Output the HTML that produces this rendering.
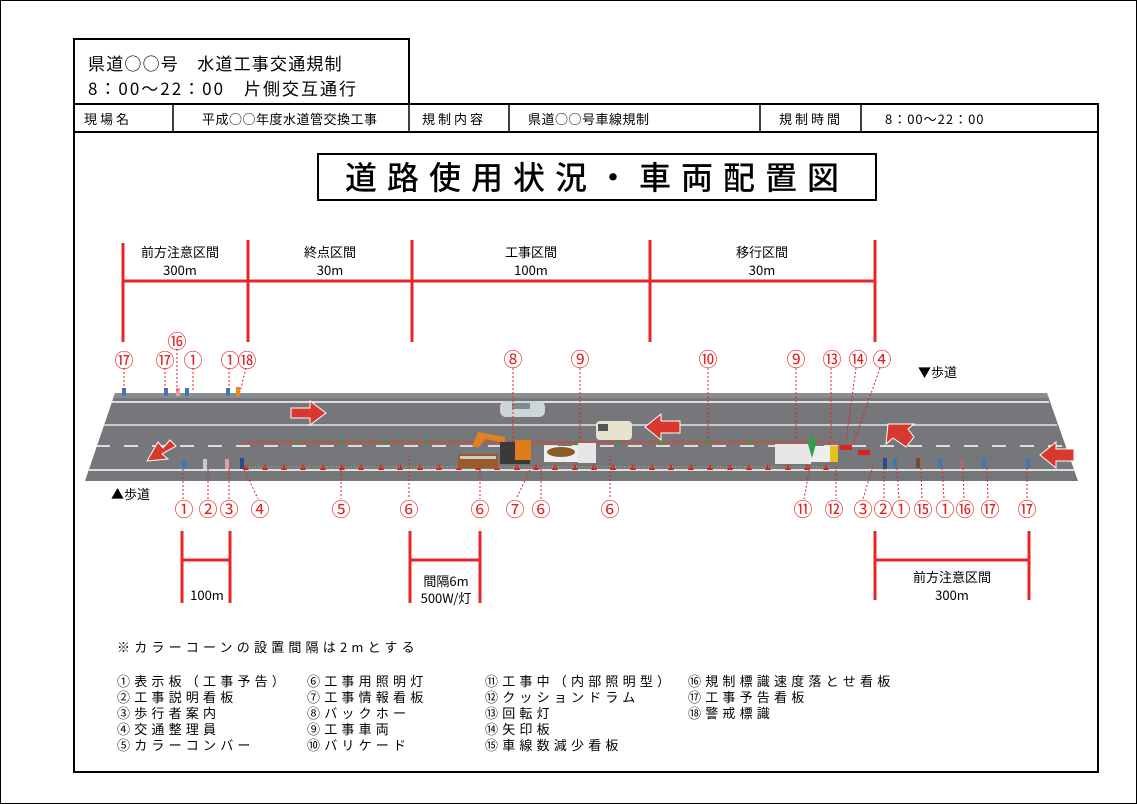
<!DOCTYPE html>
<html><head><meta charset="utf-8">
<style>
html,body{margin:0;padding:0;background:#fff;}
svg{display:block;font-family:"Liberation Sans","Noto Sans CJK JP",sans-serif;}
.t{font-family:"Noto Sans CJK JP","IPAGothic",sans-serif;}
.r{fill:#e02020;font-size:19px;text-anchor:middle;font-family:"Noto Sans CJK JP",sans-serif;}
.ld{stroke:#e02020;stroke-width:1;stroke-dasharray:2 2;}
.sec{stroke:#e8262a;stroke-width:3;}
</style></head><body>
<svg width="1137" height="804" viewBox="0 0 1137 804" xmlns="http://www.w3.org/2000/svg">
<rect x="0.5" y="0.5" width="1136" height="803" fill="#fff" stroke="#000" stroke-width="1"/>
<rect x="74" y="39" width="335" height="65" fill="#fff" stroke="#000" stroke-width="2"/>
<text x="88" y="70" font-size="17" class="t" letter-spacing="1.2">県道○○号　水道工事交通規制</text>
<text x="88" y="95" font-size="17" class="t" letter-spacing="2">8：00～22：00　片側交互通行</text>
<rect x="74" y="104" width="1024" height="668" fill="none" stroke="#000" stroke-width="2"/>
<line x1="74" y1="132" x2="1098" y2="132" stroke="#000" stroke-width="2"/>
<g stroke="#000" stroke-width="1.5">
<line x1="173" y1="104" x2="173" y2="132"/><line x1="409" y1="104" x2="409" y2="132"/>
<line x1="509" y1="104" x2="509" y2="132"/><line x1="760" y1="104" x2="760" y2="132"/>
<line x1="861" y1="104" x2="861" y2="132"/></g>
<g font-size="13" class="t">
<text x="84" y="124" letter-spacing="3">現場名</text>
<text x="202" y="124" letter-spacing="0.5">平成○○年度水道管交換工事</text>
<text x="422" y="124" letter-spacing="3">規制内容</text>
<text x="528" y="124" letter-spacing="0.5">県道○○号車線規制</text>
<text x="779" y="124" letter-spacing="3">規制時間</text>
<text x="885" y="124" letter-spacing="1">8：00～22：00</text>
</g>
<rect x="318" y="154" width="558" height="46" fill="#fff" stroke="#000" stroke-width="2"/>
<text x="597" y="189" font-size="32" text-anchor="middle" font-weight="500" class="t" letter-spacing="10">道路使用状況・車両配置図</text>
<g class="sec">
<line x1="123" y1="243" x2="123" y2="342"/><line x1="248" y1="240" x2="248" y2="342"/>
<line x1="412" y1="240" x2="412" y2="342"/><line x1="650" y1="240" x2="650" y2="342"/>
<line x1="875" y1="240" x2="875" y2="342"/><line x1="123" y1="281" x2="875" y2="281"/>
</g>
<g font-size="13" text-anchor="middle" class="t">
<text x="180" y="257">前方注意区間</text><text x="180" y="275">300m</text>
<text x="330" y="257">終点区間</text><text x="330" y="275">30m</text>
<text x="531" y="257">工事区間</text><text x="531" y="275">100m</text>
<text x="762" y="257">移行区間</text><text x="762" y="275">30m</text>
</g>
<polygon points="115,393 1047,393 1078,481 85,481" fill="#76777a"/>
<polygon points="115,393 1047,393 1049,398 113,398" fill="#8b8c8f"/>
<line x1="112" y1="402" x2="1049" y2="402" stroke="#fff" stroke-width="1.5"/>
<line x1="104" y1="425" x2="1057" y2="425" stroke="#c8c8c8" stroke-width="2"/>
<line x1="96" y1="446" x2="1064" y2="446" stroke="#fff" stroke-width="1.5" stroke-dasharray="14 14"/>
<line x1="89" y1="470" x2="1074" y2="470" stroke="#fff" stroke-width="1.5"/>
<line x1="243" y1="442" x2="840" y2="442" stroke="#d84030" stroke-width="1"/>
<line x1="243" y1="444" x2="840" y2="444" stroke="#d84030" stroke-width="1" stroke-dasharray="2 3"/>
<g fill="#3a9a3a"><rect x="296" y="440" width="3" height="5"/><rect x="340" y="440" width="3" height="5"/><rect x="383" y="440" width="3" height="5"/><rect x="425" y="440" width="3" height="5"/><rect x="575" y="440" width="3" height="5"/><rect x="617" y="440" width="3" height="5"/><rect x="660" y="440" width="3" height="5"/><rect x="706" y="440" width="3" height="5"/><rect x="750" y="440" width="3" height="5"/></g>
<g fill="#d82020">
<polygon points="243,470 246,464 249,470"/><polygon points="262,470 265,464 268,470"/><polygon points="281,470 284,464 287,470"/><polygon points="300,470 303,464 306,470"/><polygon points="320,470 323,464 326,470"/><polygon points="339,470 342,464 345,470"/><polygon points="358,470 361,464 364,470"/><polygon points="378,470 381,464 384,470"/><polygon points="397,470 400,464 403,470"/><polygon points="417,470 420,464 423,470"/><polygon points="436,470 439,464 442,470"/><polygon points="456,470 459,464 462,470"/><polygon points="475,470 478,464 481,470"/><polygon points="494,470 497,464 500,470"/><polygon points="514,470 517,464 520,470"/><polygon points="533,470 536,464 539,470"/><polygon points="552,470 555,464 558,470"/><polygon points="572,470 575,464 578,470"/><polygon points="591,470 594,464 597,470"/><polygon points="610,470 613,464 616,470"/><polygon points="630,470 633,464 636,470"/><polygon points="649,470 652,464 655,470"/><polygon points="668,470 671,464 674,470"/><polygon points="688,470 691,464 694,470"/><polygon points="707,470 710,464 713,470"/><polygon points="727,470 730,464 733,470"/><polygon points="746,470 749,464 752,470"/><polygon points="765,470 768,464 771,470"/><polygon points="785,470 788,464 791,470"/><polygon points="804,470 807,464 810,470"/><polygon points="823,470 826,464 829,470"/>
</g>
<line x1="243" y1="467" x2="830" y2="467" stroke="#c9b060" stroke-width="1" stroke-dasharray="1 2"/>
<g fill="#d9382e" stroke="#fff" stroke-width="1">
<polygon points="291,408 310,408 310,401 326,413 310,425 310,418 291,418"/>
<polygon points="680,421 661,421 661,414 645,427 661,440 661,433 680,433"/>
<polygon points="1074,449 1056,449 1056,442 1040,455 1056,468 1056,461 1074,461"/>
<polygon points="170,440 163,448 158,442 147,461 168,459 162,454 176,446"/>
<polygon points="914,437 908,429 914,424 888,424 886,444 893,438 906,447"/>
</g>
<rect x="500" y="401" width="45" height="16" rx="6" fill="#cdd7da"/><rect x="512" y="403" width="18" height="6" fill="#7d8a90"/>
<rect x="596" y="421" width="36" height="19" rx="4" fill="#e8e2d0"/><rect x="598" y="424" width="10" height="7" fill="#555"/>
<rect x="458" y="454" width="40" height="14" fill="#9a5a2a"/><rect x="460" y="456" width="36" height="3" fill="#ccc"/>
<polygon points="472,446 478,432 505,437 505,443 486,439 478,448" fill="#e08020"/>
<rect x="500" y="442" width="30" height="22" fill="#3a3a3a"/><rect x="515" y="440" width="16" height="20" fill="#e07a1a"/>
<rect x="544" y="446" width="34" height="16" fill="#eee"/><ellipse cx="561" cy="452" rx="14" ry="5" fill="#8a5a2a"/><rect x="578" y="443" width="18" height="20" fill="#e6e6e6"/>
<rect x="775" y="444" width="36" height="20" fill="#e6e6e6"/><rect x="810" y="446" width="20" height="16" fill="#eee"/>
<polygon points="808,444 812,434 816,444 812,458" fill="#2aa048"/>
<rect x="830" y="446" width="8" height="16" fill="#e8c020"/>
<rect x="840" y="445" width="12" height="5" fill="#e02020"/><rect x="858" y="450" width="12" height="5" fill="#e02020"/>
<g fill="#3a78b8">
<rect x="122" y="388" width="4" height="8"/><rect x="164" y="388" width="4" height="8"/><rect x="185" y="388" width="4" height="8"/><rect x="226" y="388" width="4" height="8"/>
<rect x="182" y="460" width="4" height="9"/><rect x="893" y="458" width="4" height="10"/><rect x="938" y="458" width="4" height="10"/><rect x="982" y="458" width="4" height="10"/><rect x="1026" y="458" width="4" height="10"/>
</g>
<rect x="176" y="388" width="4" height="8" fill="#e8a0a0"/><rect x="236" y="387" width="4" height="9" fill="#e09020"/>
<rect x="203" y="459" width="4" height="10" fill="#c0c8d0"/><rect x="225" y="459" width="4" height="10" fill="#e0a0a0"/>
<rect x="916" y="458" width="4" height="10" fill="#7a4a30"/><rect x="960" y="458" width="4" height="10" fill="#9a7070"/>
<rect x="240" y="458" width="4" height="11" fill="#2a4a8a"/><rect x="883" y="458" width="4" height="11" fill="#2a4a8a"/>
<g class="ld">
<line x1="124" y1="368" x2="124" y2="392"/><line x1="165" y1="368" x2="165" y2="392"/><line x1="177" y1="349" x2="177" y2="392"/><line x1="193" y1="368" x2="193" y2="392"/><line x1="229" y1="368" x2="229" y2="392"/><line x1="246" y1="368" x2="240" y2="392"/>
<line x1="513" y1="368" x2="513" y2="444"/><line x1="580" y1="368" x2="580" y2="443"/><line x1="708" y1="368" x2="708" y2="440"/><line x1="796" y1="368" x2="796" y2="440"/><line x1="831" y1="368" x2="831" y2="440"/><line x1="856" y1="368" x2="846" y2="440"/><line x1="880" y1="368" x2="853" y2="445"/>
<line x1="183" y1="469" x2="183" y2="499"/><line x1="208" y1="469" x2="208" y2="499"/><line x1="229" y1="469" x2="229" y2="499"/><line x1="244" y1="469" x2="258" y2="499"/><line x1="341" y1="470" x2="341" y2="499"/><line x1="409" y1="455" x2="409" y2="499"/><line x1="480" y1="470" x2="480" y2="499"/><line x1="530" y1="470" x2="516" y2="499"/><line x1="541" y1="465" x2="541" y2="499"/><line x1="610" y1="455" x2="610" y2="499"/>
<line x1="810" y1="466" x2="804" y2="499"/><line x1="836" y1="466" x2="836" y2="499"/><line x1="873" y1="466" x2="863" y2="499"/><line x1="884" y1="468" x2="884" y2="499"/><line x1="897" y1="468" x2="899" y2="499"/><line x1="921" y1="468" x2="922" y2="499"/><line x1="942" y1="468" x2="944" y2="499"/><line x1="963" y1="468" x2="964" y2="499"/><line x1="987" y1="468" x2="988" y2="499"/><line x1="1027" y1="468" x2="1027" y2="499"/>
</g>
<g class="r">
<text x="124" y="367">⑰</text><text x="177" y="348">⑯</text><text x="165" y="367">⑰</text><text x="193" y="367">①</text><text x="230" y="367">①</text><text x="247" y="367">⑱</text>
<text x="513" y="366">⑧</text><text x="580" y="366">⑨</text><text x="708" y="366">⑩</text><text x="796" y="366">⑨</text><text x="832" y="366">⑬</text><text x="858" y="366">⑭</text><text x="882" y="366">④</text>
<text x="184" y="516">①</text><text x="208" y="516">②</text><text x="229" y="516">③</text><text x="260" y="516">④</text><text x="341" y="516">⑤</text><text x="409" y="516">⑥</text><text x="480" y="516">⑥</text><text x="515" y="516">⑦</text><text x="541" y="516">⑥</text><text x="610" y="516">⑥</text>
<text x="803" y="516">⑪</text><text x="834" y="516">⑫</text><text x="863" y="516">③</text><text x="883" y="516">②</text><text x="901" y="516">①</text><text x="923" y="516">⑮</text><text x="945" y="516">①</text><text x="965" y="516">⑯</text><text x="990" y="516">⑰</text><text x="1027" y="516">⑰</text>
</g>
<text x="918" y="377" font-size="13" class="t">▼歩道</text>
<text x="111" y="499" font-size="13" class="t">▲歩道</text>
<g class="sec">
<line x1="182" y1="531" x2="182" y2="603"/><line x1="230" y1="531" x2="230" y2="603"/><line x1="182" y1="560" x2="230" y2="560"/>
<line x1="410" y1="531" x2="410" y2="603"/><line x1="480" y1="531" x2="480" y2="603"/><line x1="410" y1="560" x2="480" y2="560"/>
<line x1="875" y1="531" x2="875" y2="600"/><line x1="1029" y1="531" x2="1029" y2="600"/><line x1="875" y1="560" x2="1029" y2="560"/>
</g>
<g font-size="13" class="t" text-anchor="middle">
<text x="207" y="600">100m</text>
<text x="446" y="586">間隔6m</text><text x="446" y="603">500W/灯</text>
<text x="952" y="582">前方注意区間</text><text x="952" y="600">300m</text>
</g>
<g font-size="13" class="t" letter-spacing="4.2">
<text x="117" y="652">※カラーコーンの設置間隔は2mとする</text>
<text x="117" y="686">①表示板（工事予告）</text><text x="117" y="702">②工事説明看板</text><text x="117" y="718">③歩行者案内</text><text x="117" y="734">④交通整理員</text><text x="117" y="750">⑤カラーコンバー</text>
<text x="307" y="686">⑥工事用照明灯</text><text x="307" y="702">⑦工事情報看板</text><text x="307" y="718">⑧バックホー</text><text x="307" y="734">⑨工事車両</text><text x="307" y="750">⑩バリケード</text>
<text x="485" y="686">⑪工事中（内部照明型）</text><text x="485" y="702">⑫クッションドラム</text><text x="485" y="718">⑬回転灯</text><text x="485" y="734">⑭矢印板</text><text x="485" y="750">⑮車線数減少看板</text>
<text x="688" y="686">⑯規制標識速度落とせ看板</text><text x="688" y="702">⑰工事予告看板</text><text x="688" y="718">⑱警戒標識</text>
</g>
</svg>
</body></html>
